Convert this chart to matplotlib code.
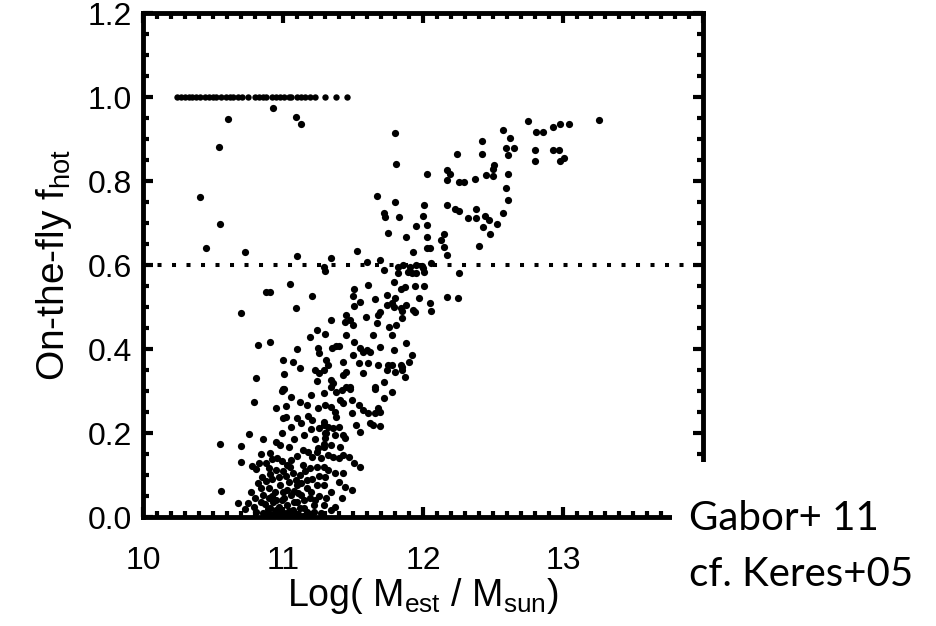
import numpy as np
import matplotlib
matplotlib.use("Agg")
import matplotlib.pyplot as plt
from matplotlib.patches import Rectangle
from matplotlib.ticker import MultipleLocator

plt.rcParams['font.family'] = ['Liberation Sans', 'DejaVu Sans']
plt.rcParams['mathtext.fontset'] = 'custom'
plt.rcParams['mathtext.rm'] = 'Liberation Sans'
plt.rcParams['mathtext.it'] = 'Liberation Sans:italic'

# haloes that are fully hot (f_hot = 1)
top_row_mass = [10.24, 10.27, 10.30, 10.33, 10.35, 10.38, 10.41, 10.44, 10.47,
                10.50, 10.52, 10.56, 10.59, 10.62, 10.64, 10.68, 10.71, 10.75,
                10.80, 10.83, 10.86, 10.88, 10.92, 10.95, 10.98, 11.01, 11.04,
                11.06, 11.10, 11.13, 11.16, 11.19, 11.23, 11.30, 11.38, 11.46]

# scattered low-mass outliers
outliers = [(10.61, 0.949), (10.93, 0.973), (11.09, 0.952), (11.13, 0.935),
            (10.54, 0.882), (10.41, 0.763), (10.55, 0.699), (10.45, 0.640),
            (10.73, 0.632), (11.10, 0.621), (11.34, 0.618), (11.53, 0.633),
            (11.29, 0.596), (11.30, 0.586)]

# massive haloes, mostly hot
upper = [(11.80, 0.915), (11.81, 0.840), (12.03, 0.818), (11.67, 0.764),
         (11.80, 0.751), (11.72, 0.725), (11.73, 0.714), (11.83, 0.714),
         (12.01, 0.743), (12.00, 0.717), (11.95, 0.694), (12.03, 0.695),
         (11.75, 0.677), (11.88, 0.666), (12.03, 0.667), (11.93, 0.632),
         (12.03, 0.640), (12.05, 0.640), (11.60, 0.608), (11.69, 0.612),
         (11.72, 0.588), (11.82, 0.596), (11.86, 0.600), (11.91, 0.596),
         (11.95, 0.600), (12.00, 0.592), (11.89, 0.584), (11.95, 0.582),
         (12.01, 0.584), (12.06, 0.604), (11.82, 0.580), (11.92, 0.580),
         (12.26, 0.580), (11.99, 0.598),
         (12.75, 0.943), (12.81, 0.917), (12.86, 0.917), (12.93, 0.928),
         (12.98, 0.936), (13.04, 0.937), (13.26, 0.945), (12.57, 0.921),
         (12.62, 0.902), (12.42, 0.895), (12.59, 0.878), (12.65, 0.880),
         (12.61, 0.862), (12.42, 0.864), (12.24, 0.864), (12.80, 0.875),
         (12.80, 0.848), (12.93, 0.875), (12.97, 0.875), (12.98, 0.848),
         (13.01, 0.854), (12.51, 0.838), (12.50, 0.830), (12.45, 0.814),
         (12.50, 0.812), (12.61, 0.818), (12.37, 0.806), (12.26, 0.798),
         (12.29, 0.798), (12.17, 0.826), (12.19, 0.817), (12.17, 0.802),
         (12.59, 0.784), (12.61, 0.755), (12.17, 0.743), (12.23, 0.733),
         (12.26, 0.729), (12.38, 0.733), (12.32, 0.711), (12.38, 0.711),
         (12.44, 0.717), (12.47, 0.707), (12.57, 0.725), (12.53, 0.699),
         (12.43, 0.691), (12.48, 0.673), (12.40, 0.645), (12.15, 0.675),
         (12.13, 0.660), (12.15, 0.644), (12.17, 0.624)]

# transition band
middle = [(11.94, 0.550), (12.01, 0.550), (11.87, 0.548), (12.17, 0.523),
          (12.25, 0.521), (11.97, 0.521), (11.88, 0.505), (11.85, 0.491),
          (11.93, 0.494), (11.94, 0.488), (12.05, 0.509), (12.06, 0.491),
          (11.88, 0.414), (11.92, 0.386), (11.90, 0.370), (11.85, 0.358),
          (11.87, 0.334), (11.51, 0.544), (11.50, 0.527), (11.61, 0.552),
          (11.79, 0.560), (11.84, 0.544), (11.66, 0.519), (11.74, 0.529),
          (11.80, 0.521), (11.55, 0.513), (11.51, 0.503), (11.74, 0.505),
          (11.78, 0.509), (11.79, 0.501), (11.84, 0.497), (11.85, 0.473),
          (11.69, 0.489), (11.68, 0.481), (11.59, 0.477), (11.45, 0.481),
          (11.44, 0.465), (11.48, 0.469), (11.50, 0.457), (11.67, 0.461),
          (11.76, 0.453), (11.81, 0.457), (11.78, 0.433), (11.45, 0.433),
          (11.64, 0.433), (11.51, 0.416), (11.55, 0.402), (11.57, 0.394),
          (11.60, 0.398), (11.62, 0.394), (11.69, 0.406), (11.79, 0.398),
          (11.50, 0.386), (11.43, 0.370), (11.54, 0.366), (11.61, 0.366),
          (11.68, 0.362), (11.75, 0.362), (11.78, 0.362), (11.84, 0.362),
          (11.85, 0.350), (11.74, 0.350), (11.80, 0.346), (11.45, 0.346),
          (11.43, 0.338), (11.57, 0.344), (11.72, 0.322), (11.48, 0.310),
          (11.66, 0.310), (11.05, 0.554), (10.88, 0.535), (10.91, 0.535),
          (11.21, 0.526), (10.70, 0.485), (11.09, 0.497), (11.34, 0.469),
          (11.24, 0.445), (11.30, 0.437), (11.19, 0.429), (10.82, 0.410),
          (10.91, 0.416), (11.10, 0.400), (11.25, 0.402), (11.26, 0.390),
          (11.35, 0.402), (11.38, 0.408), (11.40, 0.408), (11.00, 0.374),
          (11.07, 0.368), (11.12, 0.355), (11.31, 0.374), (11.32, 0.362),
          (11.29, 0.350), (11.26, 0.342), (11.23, 0.350), (11.01, 0.340),
          (10.81, 0.330), (11.24, 0.324), (11.34, 0.326), (11.36, 0.318),
          (11.00, 0.306)]

# low-mass, cold-mode dominated haloes
lower = [(10.79, 0.275), (10.76, 0.198), (10.55, 0.175), (10.56, 0.063),
         (10.68, 0.034), (10.70, 0.169), (10.70, 0.132), (10.99, 0.300),
         (11.01, 0.305), (10.95, 0.259), (11.02, 0.265), (11.00, 0.235),
         (11.02, 0.239), (11.10, 0.235), (11.13, 0.225), (11.17, 0.267),
         (11.25, 0.260), (11.18, 0.241), (11.21, 0.231), (11.29, 0.295),
         (11.30, 0.267), (10.95, 0.179), (10.98, 0.171), (11.04, 0.167),
         (10.84, 0.149), (10.91, 0.152), (10.92, 0.138), (10.78, 0.122),
         (10.83, 0.128), (10.81, 0.114), (10.90, 0.116), (10.91, 0.102),
         (10.99, 0.133), (11.03, 0.125), (11.05, 0.120), (11.10, 0.146),
         (10.95, 0.112), (11.00, 0.110), (11.09, 0.088), (11.12, 0.100),
         (11.17, 0.088), (11.18, 0.155), (11.21, 0.144), (11.24, 0.155),
         (11.14, 0.124), (11.19, 0.116), (11.24, 0.120), (11.25, 0.164),
         (11.29, 0.175), (11.30, 0.187), (11.26, 0.211), (11.29, 0.227),
         (11.30, 0.199), (10.84, 0.068), (10.86, 0.052), (10.75, 0.033),
         (10.79, 0.025), (10.84, 0.036), (10.90, 0.045), (10.94, 0.060),
         (10.98, 0.076), (11.00, 0.060), (11.04, 0.084), (11.06, 0.052),
         (11.10, 0.076), (11.10, 0.036), (11.13, 0.052), (11.17, 0.068),
         (11.19, 0.045), (11.22, 0.029), (11.24, 0.076), (10.91, 0.021),
         (10.95, 0.017), (11.03, 0.029), (11.07, 0.017), (11.12, 0.021),
         (11.17, 0.013), (11.22, 0.013), (10.81, 0.013), (10.86, 0.009),
         (10.99, 0.040), (10.88, 0.004), (10.96, 0.002), (11.05, 0.005),
         (11.14, 0.003), (10.93, 0.008), (11.01, 0.010), (11.34, 0.310),
         (11.42, 0.302), (11.45, 0.310), (11.48, 0.306), (11.66, 0.306),
         (11.78, 0.298), (11.72, 0.284), (11.38, 0.298), (11.41, 0.279),
         (11.43, 0.271), (11.49, 0.279), (11.54, 0.267), (11.57, 0.255),
         (11.61, 0.247), (11.34, 0.263), (11.37, 0.251), (11.38, 0.239),
         (11.49, 0.247), (11.68, 0.259), (11.69, 0.251), (11.66, 0.247),
         (11.62, 0.223), (11.64, 0.219), (11.69, 0.217), (11.52, 0.219),
         (11.55, 0.203), (11.29, 0.219), (11.32, 0.215), (11.36, 0.211),
         (11.40, 0.215), (11.31, 0.199), (11.37, 0.195), (11.43, 0.195),
         (11.44, 0.187), (11.41, 0.167), (11.29, 0.167), (11.34, 0.171),
         (11.32, 0.148), (11.36, 0.144), (11.40, 0.140), (11.43, 0.148),
         (11.47, 0.144), (11.51, 0.128), (11.55, 0.120), (11.29, 0.120),
         (11.32, 0.112), (11.30, 0.096), (11.37, 0.104), (11.43, 0.104),
         (11.40, 0.084), (11.44, 0.072), (11.49, 0.064), (11.29, 0.076),
         (11.34, 0.060), (11.31, 0.045), (11.42, 0.045), (11.29, 0.029),
         (11.37, 0.025), (11.34, 0.017),
         (10.80, 0.045), (10.82, 0.080), (10.88, 0.085), (10.92, 0.090),
         (10.97, 0.095), (11.02, 0.098), (11.07, 0.105), (10.87, 0.030),
         (10.93, 0.035), (10.97, 0.025), (11.01, 0.045), (11.08, 0.062),
         (11.15, 0.040), (11.20, 0.060), (11.26, 0.050), (11.27, 0.010),
         (11.19, 0.005), (10.90, 0.070), (11.06, 0.135), (11.14, 0.160),
         (11.08, 0.185), (11.15, 0.195), (11.20, 0.210), (11.23, 0.185),
         (10.86, 0.185), (10.99, 0.200), (11.06, 0.215), (10.77, 0.060),
         (10.73, 0.018), (11.11, 0.008), (11.16, 0.110), (10.96, 0.140),
         (10.88, 0.128), (11.12, 0.275), (11.20, 0.290), (11.06, 0.285),
         (10.89, 0.018), (10.92, 0.050), (10.95, 0.040), (10.98, 0.012),
         (11.03, 0.064), (11.04, 0.015), (11.08, 0.035), (11.09, 0.005),
         (11.11, 0.056), (11.15, 0.022), (10.85, 0.096), (11.13, 0.080),
         (11.21, 0.090), (11.26, 0.098), (11.27, 0.140), (11.23, 0.040)]

f_split = 0.6

fig = plt.figure(figsize=(9.37, 6.26), dpi=100)
ax = fig.add_axes([0.1526, 0.1741, 0.5977, 0.8049])

ax.plot(top_row_mass, np.ones(len(top_row_mass)), 'o', color='k', ms=4.6, mew=0)
for grp in (outliers, upper, middle, lower):
    m, f = np.array(grp).T
    ax.plot(m, f, 'o', color='k', ms=5.2, mew=0)

ax.axhline(f_split, color='k', lw=2.9, dashes=(1, 2.6), dash_capstyle='butt')

ax.set_xlim(10, 14)
ax.set_ylim(0, 1.2)
ax.xaxis.set_major_locator(MultipleLocator(1))
ax.xaxis.set_minor_locator(MultipleLocator(0.1))
ax.yaxis.set_major_locator(MultipleLocator(0.2))
ax.yaxis.set_minor_locator(MultipleLocator(0.05))
ax.xaxis.set_major_formatter(plt.FuncFormatter(lambda v, p: '%d' % v if v < 14 else ''))
ax.yaxis.set_major_formatter(plt.FuncFormatter(lambda v, p: '%.1f' % v))

for sp in ax.spines.values():
    sp.set_linewidth(3.5)
ax.tick_params(which='both', direction='in', top=True, right=True, width=3)
ax.tick_params(which='major', length=7.5)
ax.tick_params(which='minor', length=4)
ax.tick_params(axis='x', labelsize=23, pad=21)
ax.tick_params(axis='y', labelsize=23, pad=8)

ax.set_xlabel(r'Log( M$_{\rm est}$ / M$_{\rm sun}$)', fontsize=27, labelpad=0)
ax.set_ylabel(r'On-the-fly f$_{\rm hot}$', fontsize=28, labelpad=10)

# white panel for the reference note in the corner
fig.add_artist(Rectangle((0.717, 0.0), 0.3, 0.262, transform=fig.transFigure,
                         facecolor='white', edgecolor='none', zorder=5))
fig.text(0.735, 0.172, 'Gabor+ 11', fontsize=29, family='Lato',
         ha='left', va='center', zorder=6)
fig.text(0.735, 0.082, 'cf. Keres+05', fontsize=29, family='Lato',
         ha='left', va='center', zorder=6)

fig.savefig('out.png', dpi=100)
